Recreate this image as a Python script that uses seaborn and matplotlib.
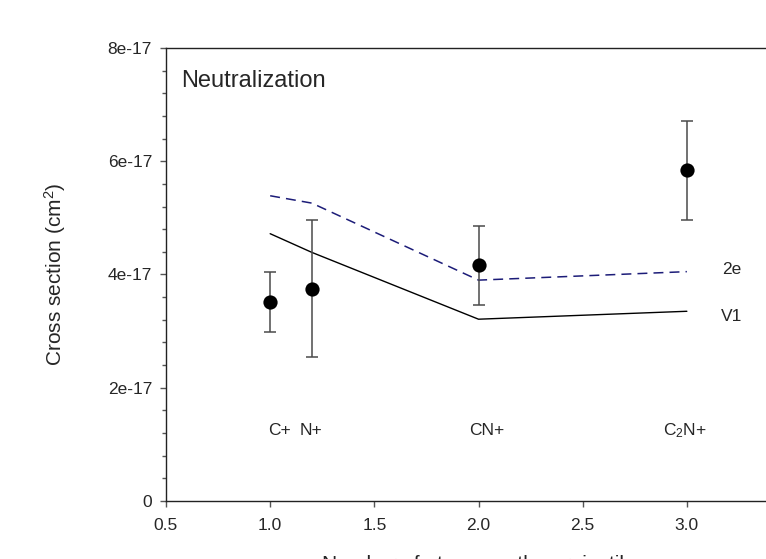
import matplotlib
matplotlib.use("Agg")
import matplotlib.pyplot as plt
from matplotlib.ticker import MultipleLocator, FuncFormatter
import numpy as np
import pandas as pd
import seaborn as sns

# Projectile sizes (number of atoms) and their labels
projectiles = ["C+", "N+", "CN+", "C$_2$N+"]
n_atoms = [1.0, 1.2, 2.0, 3.0]

# Measured neutralization cross sections (cm^2) and their uncertainties
measured = [3.51e-17, 3.75e-17, 4.16e-17, 5.84e-17]
measured_err = [0.525e-17, 1.215e-17, 0.70e-17, 0.875e-17]

# Model curves
model_2e = [5.39e-17, 5.26e-17, 3.90e-17, 4.05e-17]
model_v1 = [4.72e-17, 4.39e-17, 3.21e-17, 3.35e-17]

# Where the projectile names are written (x in atoms)
label_x = [1.043, 1.198, 2.04, 2.99]
label_y = 1.25e-17

y_ticks = [0, 2e-17, 4e-17, 6e-17, 8e-17]
y_ticklabels = ["0", "2e-17", "4e-17", "6e-17", "8e-17"]
x_ticks = [0.5, 1.0, 1.5, 2.0, 2.5, 3.0]

sns.set_style("ticks")
plt.rcParams["font.family"] = ["Liberation Sans", "DejaVu Sans"]
plt.rcParams["mathtext.fontset"] = "custom"
plt.rcParams["mathtext.rm"] = "Liberation Sans"
plt.rcParams["mathtext.it"] = "Liberation Sans"

fig = plt.figure(figsize=(7.66, 5.59), dpi=100)
ax = fig.add_axes([0.2167, 0.1038, 0.816, 0.8104])

curves = pd.DataFrame({"atoms": n_atoms, "2e": model_2e, "V1": model_v1})
sns.lineplot(data=curves, x="atoms", y="2e", ax=ax, color="#1c1c78",
             linewidth=1.1, estimator=None, sort=False,
             dashes=False, linestyle=(0, (6.5, 4.0)))
sns.lineplot(data=curves, x="atoms", y="V1", ax=ax, color="black",
             linewidth=1.0, estimator=None, sort=False)

ax.errorbar(n_atoms, measured, yerr=measured_err, fmt="none",
            ecolor="#4a4a4a", elinewidth=1.1, capsize=4.6, capthick=1.1, zorder=3)
points = pd.DataFrame({"atoms": n_atoms, "sigma": measured})
sns.scatterplot(data=points, x="atoms", y="sigma", ax=ax, color="black",
                s=105, edgecolor="black", linewidth=0, zorder=4)

for name, xpos in zip(projectiles, label_x):
    ax.text(xpos, label_y, name, ha="center", va="center", fontsize=12.5)

ax.text(3.216, model_2e[-1] + 0.03e-17, "2e", ha="center", va="center", fontsize=12.5)
ax.text(3.216, model_v1[-1] - 0.09e-17, "V1", ha="center", va="center", fontsize=12.5)
ax.text(0.572, 7.41e-17, "Neutralization", ha="left", va="center", fontsize=17)

ax.set_xlim(0.5, 3.5)
ax.set_ylim(0, 8e-17)
ax.set_xticks(x_ticks)
ax.xaxis.set_major_formatter(FuncFormatter(lambda v, p: f"{v:.1f}"))
ax.set_yticks(y_ticks)
ax.set_yticklabels(y_ticklabels)
ax.yaxis.set_minor_locator(MultipleLocator(0.4e-17))

ax.tick_params(axis="both", which="major", direction="out", length=4,
               width=1, color="#555555", labelsize=12.5, pad=6)
ax.tick_params(axis="y", which="minor", direction="out", length=3,
               width=1, color="#555555")
ax.tick_params(axis="x", pad=8)

for side in ["left", "bottom", "top", "right"]:
    ax.spines[side].set_visible(True)
    ax.spines[side].set_linewidth(1.0)
    ax.spines[side].set_color("#222222")

ax.set_xlabel("Number of atoms on the projectile", fontsize=15)
ax.set_ylabel("Cross section (cm$^2$)", fontsize=15)
ax.yaxis.set_label_coords(-0.157, 0.5)
ax.xaxis.set_label_coords(0.5, -0.12)
ax.xaxis.label.set_va("top")

fig.savefig("out.png", dpi=100)
